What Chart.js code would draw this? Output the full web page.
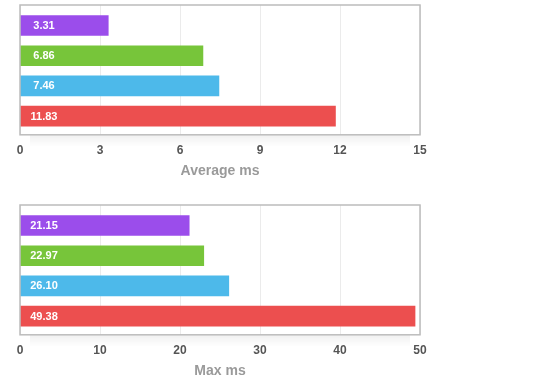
<!DOCTYPE html>
<html>
<head>
<meta charset="utf-8">
<script src="https://cdn.jsdelivr.net/npm/chart.js@4"></script>
<style>
  body { margin: 0; background: #fff; }
  .box { position: absolute; left: 0; width: 440px; height: 200px; }
</style>
</head>
<body>
<div class="box" style="top:0"><canvas id="avgChart"></canvas></div>
<div class="box" style="top:200px"><canvas id="maxChart"></canvas></div>
<script>
// one bar per run, top to bottom
const rows = [0, 1, 2, 3];
const avgValues = [3.31, 6.86, 7.46, 11.83];
const maxValues = [21.15, 22.97, 26.10, 49.38];
const barColors = ['#9b4deb', '#77c53a', '#4db9ea', '#ec4f4f'];
const avgTicks = [0, 3, 6, 9, 12, 15];
const maxTicks = [0, 10, 20, 30, 40, 50];

const FONT = 'Liberation Sans, Arial, Helvetica, sans-serif';

// grey frame round the plot area, with a soft shade under it
const frame = {
  id: 'frame',
  beforeDraw(chart) {
    const a = chart.chartArea, ctx = chart.ctx;
    const g = ctx.createLinearGradient(0, a.bottom, 0, a.bottom + 12);
    g.addColorStop(0, 'rgba(0,0,0,0.06)');
    g.addColorStop(1, 'rgba(0,0,0,0)');
    ctx.save();
    ctx.fillStyle = g;
    ctx.fillRect(a.left + 10, a.bottom, a.right - a.left - 20, 12);
    ctx.restore();
  },
  afterDraw(chart) {
    const a = chart.chartArea, ctx = chart.ctx;
    ctx.save();
    ctx.strokeStyle = '#bcbcbc';
    ctx.lineWidth = 1.5;
    ctx.strokeRect(a.left, a.top, a.right - a.left, a.bottom - a.top);
    ctx.restore();
  }
};

// value text inside each bar
const labels = {
  id: 'labels',
  afterDatasetsDraw(chart) {
    const ctx = chart.ctx;
    const meta = chart.getDatasetMeta(0);
    const data = chart.data.datasets[0].data;
    ctx.save();
    ctx.fillStyle = '#fff';
    ctx.font = 'bold 11px ' + FONT;
    ctx.textAlign = 'center';
    ctx.textBaseline = 'middle';
    meta.data.forEach((bar, i) => {
      ctx.fillText(data[i].x.toFixed(2), chart.chartArea.left + 24, bar.y + 0.5);
    });
    ctx.restore();
  }
};

function makeChart(id, values, ticks, title) {
  new Chart(id, {
    type: 'bar',
    data: {
      datasets: [{
        data: rows.map((r, i) => ({ x: values[i], y: r })),
        backgroundColor: barColors,
        barThickness: 20
      }]
    },
    options: {
      indexAxis: 'y',
      responsive: true,
      maintainAspectRatio: false,
      animation: false,
      layout: { padding: { top: 5, left: 20, right: 20, bottom: 18 } },
      plugins: { legend: { display: false }, tooltip: { enabled: false } },
      scales: {
        y: {
          type: 'linear', reverse: true, min: -0.68, max: 3.62,
          offset: false, display: false
        },
        x: {
          min: ticks[0], max: ticks[ticks.length - 1],
          afterBuildTicks: s => { s.ticks = ticks.map(v => ({ value: v })); },
          grid: { color: '#ebebeb', drawTicks: false },
          border: { display: false },
          ticks: { padding: 9, color: '#555', font: { family: FONT, size: 12, weight: 'bold' } },
          title: {
            display: true, text: title, color: '#9a9a9a',
            padding: { top: -4, bottom: 2 },
            font: { family: FONT, size: 14, weight: 'bold' }
          }
        }
      }
    },
    plugins: [frame, labels]
  });
}

makeChart('avgChart', avgValues, avgTicks, 'Average ms');
makeChart('maxChart', maxValues, maxTicks, 'Max ms');
</script>
</body>
</html>
